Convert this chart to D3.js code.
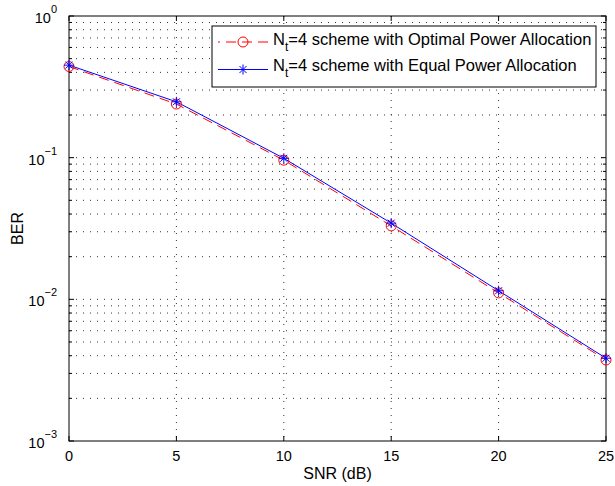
<!DOCTYPE html>
<html>
<head>
<meta charset="utf-8">
<script src="https://cdn.jsdelivr.net/npm/d3@7"></script>
<style>
  body { margin: 0; background: #fff; }
  svg { font-family: "Liberation Sans", Arial, Helvetica, sans-serif; }
  .grid line { stroke: #333; stroke-width: 1; stroke-dasharray: 1,6; }
</style>
</head>
<body>
<svg width="615" height="486"></svg>
<script>
// valores
const snr = [0, 5, 10, 15, 20, 25];
const berOptimal = [0.44, 0.239, 0.096, 0.033, 0.0111, 0.00373];
const berEqual = [0.45, 0.248, 0.099, 0.0345, 0.0115, 0.00384];
const xTicks = [0, 5, 10, 15, 20, 25];
const yExponents = [0, -1, -2, -3];
const seriesNames = ['=4 scheme with Optimal Power Allocation', '=4 scheme with Equal Power Allocation'];

const svg = d3.select('svg');
const pLeft = 69, pRight = 606, pTop = 16, pBottom = 441;

const xScale = d3.scaleLinear().domain([0, 25]).range([pLeft, pRight]);
const yScale = d3.scaleLog().domain([1e-3, 1]).range([pBottom, pTop]);

// minor values for log grid
const minor = [];
for (let e = -3; e < 0; e++) {
  for (let m = 1; m <= 9; m++) minor.push(m * Math.pow(10, e));
}
minor.push(1);

const grid = svg.append('g').attr('class', 'grid');
grid.selectAll('.hy')
  .data(minor.filter(v => v > 1e-3 && v < 1))
  .enter().append('line')
  .attr('x1', pLeft).attr('x2', pRight)
  .attr('y1', d => yScale(d)).attr('y2', d => yScale(d));
grid.selectAll('.vx')
  .data(xTicks.filter(v => v > 0 && v < 25))
  .enter().append('line')
  .attr('x1', d => xScale(d)).attr('x2', d => xScale(d))
  .attr('y1', pTop).attr('y2', pBottom);

// ticks inside the box
const ticks = svg.append('g').attr('stroke', '#000').attr('stroke-width', 1);
xTicks.forEach(t => {
  const x = xScale(t);
  ticks.append('line').attr('x1', x).attr('x2', x).attr('y1', pBottom).attr('y2', pBottom - 5);
  ticks.append('line').attr('x1', x).attr('x2', x).attr('y1', pTop).attr('y2', pTop + 5);
});
minor.forEach(v => {
  const y = yScale(v);
  const major = Math.abs(Math.log10(v) - Math.round(Math.log10(v))) < 1e-9;
  const len = major ? 5 : 3;
  ticks.append('line').attr('x1', pLeft).attr('x2', pLeft + len).attr('y1', y).attr('y2', y);
  ticks.append('line').attr('x1', pRight).attr('x2', pRight - len).attr('y1', y).attr('y2', y);
});

svg.append('rect')
  .attr('x', pLeft).attr('y', pTop)
  .attr('width', pRight - pLeft).attr('height', pBottom - pTop)
  .attr('fill', 'none').attr('stroke', '#000').attr('stroke-width', 1);

// x tick labels
svg.append('g').selectAll('text')
  .data(xTicks)
  .enter().append('text')
  .attr('x', d => xScale(d))
  .attr('y', pBottom + 20)
  .attr('text-anchor', 'middle')
  .attr('font-size', 14.5)
  .text(d => d);

// y tick labels 10^n
const yLab = svg.append('g').selectAll('text')
  .data(yExponents)
  .enter().append('text')
  .attr('x', pLeft - 12)
  .attr('y', d => yScale(Math.pow(10, d)) + 7)
  .attr('text-anchor', 'end')
  .attr('font-size', 14.5);
yLab.append('tspan').text('10');
yLab.append('tspan').attr('dy', -10).attr('font-size', 11).text(d => d === 0 ? '0' : '\u2212' + (-d));

svg.append('text')
  .attr('x', (pLeft + pRight) / 2)
  .attr('y', pBottom + 38)
  .attr('text-anchor', 'middle')
  .attr('font-size', 16)
  .text('SNR (dB)');

svg.append('text')
  .attr('transform', `translate(22.5, ${(pTop + pBottom) / 2}) rotate(-90)`)
  .attr('text-anchor', 'middle')
  .attr('font-size', 16)
  .text('BER');

// curvas
const line = (vals) => d3.line()
  .x((d, i) => xScale(snr[i]))
  .y(d => yScale(d))(vals);

svg.append('path')
  .attr('d', line(berOptimal))
  .attr('fill', 'none').attr('stroke', '#ff0000').attr('stroke-width', 1)
  .attr('stroke-dasharray', '10,6');
svg.append('path')
  .attr('d', line(berEqual))
  .attr('fill', 'none').attr('stroke', '#0000ff').attr('stroke-width', 1);

function circle(g, x, y) {
  g.append('circle').attr('cx', x).attr('cy', y).attr('r', 5)
    .attr('fill', 'none').attr('stroke', '#ff0000').attr('stroke-width', 1);
}
function star(g, x, y) {
  const s = 5, d = 3.5;
  g.append('path')
    .attr('d', `M${x - s},${y}H${x + s}M${x},${y - s}V${y + s}M${x - d},${y - d}L${x + d},${y + d}M${x - d},${y + d}L${x + d},${y - d}`)
    .attr('stroke', '#0000ff').attr('stroke-width', 1).attr('fill', 'none');
}

const markers = svg.append('g');
berOptimal.forEach((v, i) => circle(markers, xScale(snr[i]), yScale(v)));
berEqual.forEach((v, i) => star(markers, xScale(snr[i]), yScale(v)));

// leyenda
const legend = svg.append('g');
legend.append('rect')
  .attr('x', 212).attr('y', 26).attr('width', 384).attr('height', 61)
  .attr('fill', '#fff').attr('stroke', '#000').attr('stroke-width', 1);

const rows = [42, 69.5];
const baselines = [45, 71];
legend.append('line')
  .attr('x1', 268).attr('x2', 218).attr('y1', rows[0]).attr('y2', rows[0])
  .attr('stroke', '#ff0000').attr('stroke-dasharray', '10,6');
circle(legend, 243, rows[0]);
legend.append('line')
  .attr('x1', 218).attr('x2', 268).attr('y1', rows[1]).attr('y2', rows[1])
  .attr('stroke', '#0000ff');
star(legend, 243, rows[1]);

seriesNames.forEach((name, i) => {
  const t = legend.append('text')
    .attr('x', 273).attr('y', baselines[i])
    .attr('font-size', 16.5);
  t.append('tspan').text('N');
  t.append('tspan').attr('dy', 6).attr('font-size', 12).text('t');
  t.append('tspan').attr('dy', -6).text(name);
});
</script>
</body>
</html>
